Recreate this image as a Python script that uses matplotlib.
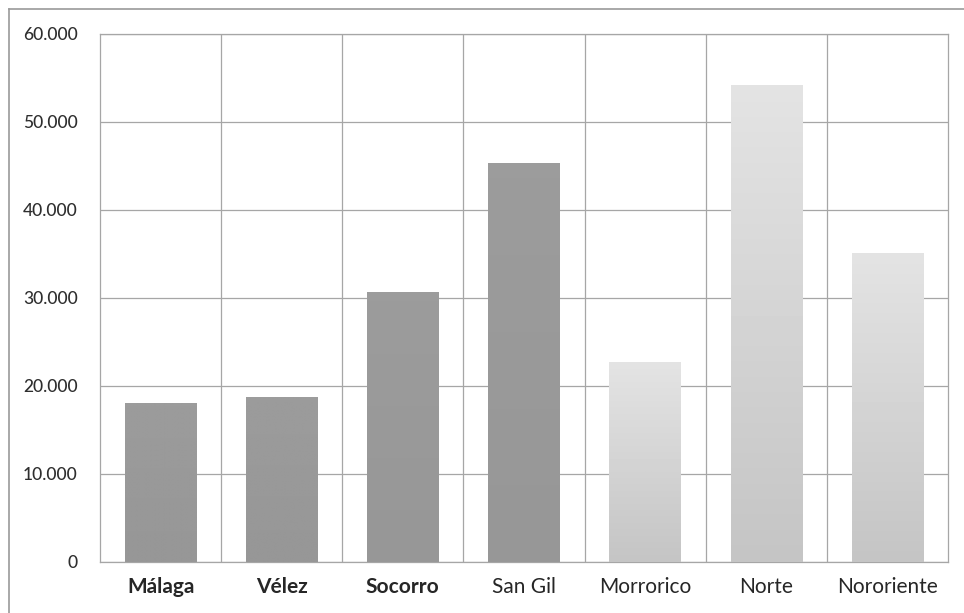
import numpy as np
import matplotlib
matplotlib.use("Agg")
import matplotlib.pyplot as plt
from matplotlib.lines import Line2D
from matplotlib.ticker import FuncFormatter, MultipleLocator, FixedLocator

categories = ["Málaga", "Vélez", "Socorro", "San Gil", "Morrorico", "Norte", "Nororiente"]
values = [18100, 18800, 30700, 45300, 22700, 54200, 35100]
bold_labels = [True, True, True, False, False, False, False]
dark_bars = [True, True, True, True, False, False, False]

plt.rcParams['font.family'] = ['Lato', 'DejaVu Sans']

fig = plt.figure(figsize=(9.64, 6.13), dpi=100)
ax = fig.add_axes([100/964, 1-562/613, 848/964, (562-34)/613])

x = np.arange(len(categories))
bars = ax.bar(x, values, width=0.59, color='none', edgecolor='none', zorder=3)

for b, dark in zip(bars, dark_bars):
    x0, y0 = b.get_x(), b.get_y()
    w, h = b.get_width(), b.get_height()
    if dark:
        grad = np.linspace(0.59, 0.61, 64).reshape(-1, 1)
    else:
        # lighter at top, darker at bottom
        grad = np.linspace(0.77, 0.89, 64).reshape(-1, 1)
    im = ax.imshow(grad, cmap='gray', vmin=0, vmax=1, aspect='auto',
                   extent=(x0, x0 + w, y0, y0 + h), origin='lower',
                   zorder=3, interpolation='bilinear')
    im.set_clip_path(b)

ax.set_xlim(-0.5, len(categories)-0.5)
ax.set_ylim(0, 60000)

ax.yaxis.set_major_locator(MultipleLocator(10000))
ax.yaxis.set_major_formatter(FuncFormatter(lambda v, p: f"{int(v):,}".replace(",", ".")))
ax.xaxis.set_major_locator(FixedLocator(x))
ax.xaxis.set_minor_locator(FixedLocator(np.arange(0.5, len(categories)-0.5, 1)))
ax.set_xticklabels(categories)

ax.grid(axis='y', which='major', color='#a6a6a6', linewidth=0.9, zorder=0)
ax.grid(axis='x', which='minor', color='#a6a6a6', linewidth=0.9, zorder=0)
ax.grid(axis='x', which='major', visible=False)

for s in ax.spines.values():
    s.set_color('#a6a6a6')
    s.set_linewidth(0.9)

ax.tick_params(axis='both', which='both', length=0)
ax.tick_params(axis='y', pad=16, labelsize=12.5, labelcolor='#2e2e2e')
ax.tick_params(axis='x', pad=11, labelsize=15, labelcolor='#262626')

for lbl, bold in zip(ax.get_xticklabels(), bold_labels):
    lbl.set_fontweight('bold' if bold else 'normal')
for lbl in ax.get_yticklabels():
    lbl.set_fontweight('medium')

# outer chart frame
fig.add_artist(Line2D([9/964, 9/964], [0, 1-9/613], color='#9a9a9a', lw=1.2))
fig.add_artist(Line2D([9/964, 1], [1-9/613, 1-9/613], color='#9a9a9a', lw=1.2))

fig.savefig("out.png", dpi=100)
